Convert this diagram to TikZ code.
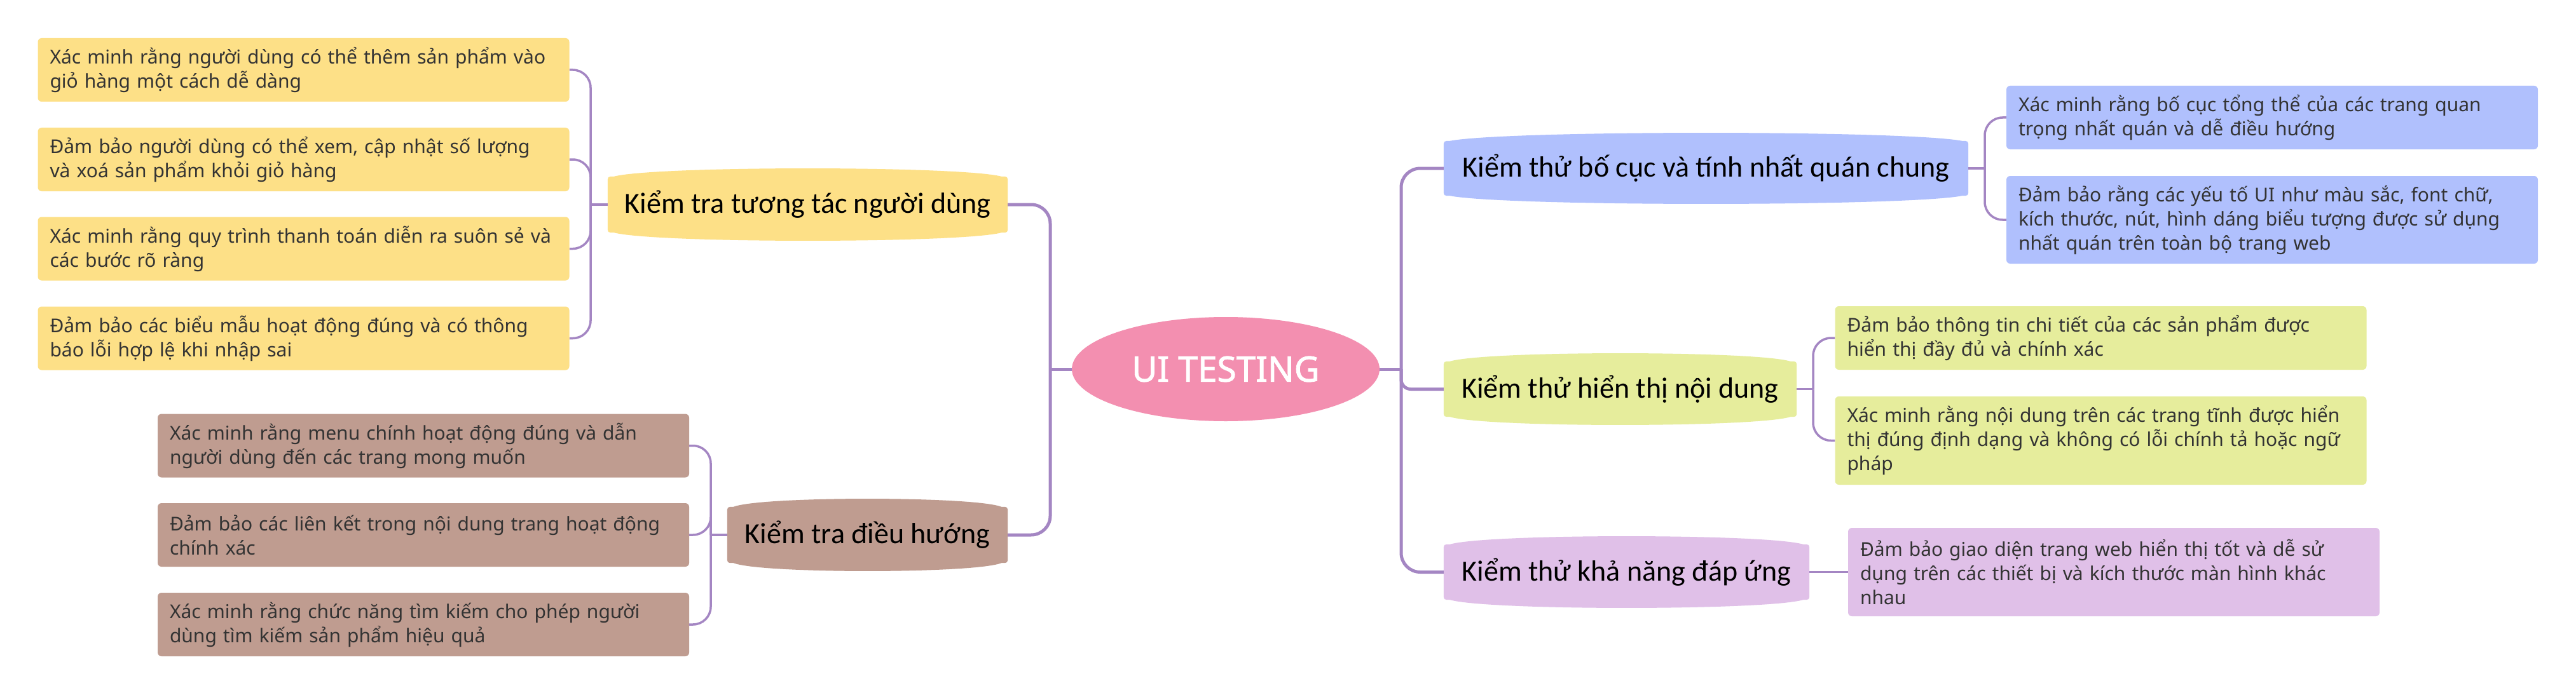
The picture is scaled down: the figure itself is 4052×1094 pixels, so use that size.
\documentclass[tikz,border=0pt]{standalone}
\usepackage{fontspec}
\setmainfont{Noto Sans}
\newfontfamily\mainfnt{Carlito}
\newfontfamily\rootfnt{Noto Sans}[FakeBold=1.6]
\usetikzlibrary{shapes.geometric,calc,backgrounds}
\definecolor{cyel}{RGB}{253,224,135}
\definecolor{cbrn}{RGB}{191,156,144}
\definecolor{cblu}{RGB}{176,192,253}
\definecolor{cgrn}{RGB}{230,237,156}
\definecolor{cpur}{RGB}{224,192,232}
\definecolor{cpink}{RGB}{243,143,176}
\definecolor{cline}{RGB}{164,134,195}
\definecolor{ctext}{RGB}{51,51,51}
\tikzset{
  leafbox/.style={rounded corners=6pt, inner xsep=19pt, inner ysep=0pt,
    text width=798pt, minimum height=100pt, align=left,
    font=\fontsize{30}{38}\selectfont, text=ctext},
  mainbox/.style={inner sep=0pt, align=center, text=black,
    font=\mainfnt\fontsize{46}{50}\selectfont},
  trunk/.style={draw=cline, line width=5pt},
  twig/.style={draw=cline, line width=3.5pt},
}
\newcommand{\barrelfill}[2]{%
  \begin{pgfonlayer}{background}
  \fill[#2] ([yshift=-10pt]#1.north west) .. controls (#1.north west) .. ([xshift=10pt]#1.north west)
    .. controls ($(#1.north west)!0.12!(#1.north east)+(0pt,17pt)$) and ($(#1.north west)!0.88!(#1.north east)+(0pt,17pt)$) .. ([xshift=-10pt]#1.north east)
    .. controls (#1.north east) .. ([yshift=-10pt]#1.north east)
    -- ([yshift=10pt]#1.south east) .. controls (#1.south east) .. ([xshift=-10pt]#1.south east)
    .. controls ($(#1.south east)!0.12!(#1.south west)+(0pt,-17pt)$) and ($(#1.south east)!0.88!(#1.south west)+(0pt,-17pt)$) .. ([xshift=10pt]#1.south west)
    .. controls (#1.south west) .. ([yshift=10pt]#1.south west) -- cycle;
  \end{pgfonlayer}}
\begin{document}
\begin{tikzpicture}[x=1pt,y=-1pt]
\begin{pgfonlayer}{background}
\fill[white] (0,0) rectangle (4052,1094);
\end{pgfonlayer}
\useasboundingbox (0,0) rectangle (4052,1094);

% centre
\node[ellipse, fill=cpink, inner sep=0pt, minimum width=484pt, minimum height=164pt,
  text=white, font=\rootfnt\fontsize{55}{60}\selectfont] (C0) at (1928,581) {UI TESTING};

% main branches
\node[mainbox, minimum width=629pt, minimum height=88pt] (U) at (1270.5,322) {Kiểm tra tương tác người dùng};
\barrelfill{U}{cyel}
\node[mainbox, minimum width=441pt, minimum height=88pt] (N) at (1364.5,842) {Kiểm tra điều hướng};
\barrelfill{N}{cbrn}
\node[mainbox, minimum width=825pt, minimum height=86pt] (L) at (2683.5,265) {Kiểm thử bố cục và tính nhất quán chung};
\barrelfill{L}{cblu}
\node[mainbox, minimum width=555pt, minimum height=87pt] (C) at (2548.5,612.5) {Kiểm thử hiển thị nội dung};
\barrelfill{C}{cgrn}
\node[mainbox, minimum width=575pt, minimum height=87pt] (R) at (2558.5,900.5) {Kiểm thử khả năng đáp ứng};
\barrelfill{R}{cpur}

% leaves
\node[leafbox, fill=cyel] (Y1) at (477.5,110) {Xác minh rằng người dùng có thể thêm sản phẩm vào\\giỏ hàng một cách dễ dàng};
\node[leafbox, fill=cyel] (Y2) at (477.5,251) {Đảm bảo người dùng có thể xem, cập nhật số lượng\\và xoá sản phẩm khỏi giỏ hàng};
\node[leafbox, fill=cyel] (Y3) at (477.5,391.5) {Xác minh rằng quy trình thanh toán diễn ra suôn sẻ và\\các bước rõ ràng};
\node[leafbox, fill=cyel] (Y4) at (477.5,532.5) {Đảm bảo các biểu mẫu hoạt động đúng và có thông\\báo lỗi hợp lệ khi nhập sai};

\node[leafbox, fill=cbrn] (N1) at (666,701.5) {Xác minh rằng menu chính hoạt động đúng và dẫn\\người dùng đến các trang mong muốn};
\node[leafbox, fill=cbrn] (N2) at (666,842) {Đảm bảo các liên kết trong nội dung trang hoạt động\\chính xác};
\node[leafbox, fill=cbrn] (N3) at (666,983) {Xác minh rằng chức năng tìm kiếm cho phép người\\dùng tìm kiếm sản phẩm hiệu quả};

\node[leafbox, fill=cblu] (L1) at (3574,185) {Xác minh rằng bố cục tổng thể của các trang quan\\trọng nhất quán và dễ điều hướng};
\node[leafbox, fill=cblu, minimum height=138pt] (L2) at (3574,346) {Đảm bảo rằng các yếu tố UI như màu sắc, font chữ,\\kích thước, nút, hình dáng biểu tượng được sử dụng\\nhất quán trên toàn bộ trang web};

\node[leafbox, fill=cgrn] (C1) at (3304.5,532) {Đảm bảo thông tin chi tiết của các sản phẩm được\\hiển thị đầy đủ và chính xác};
\node[leafbox, fill=cgrn, minimum height=139pt] (C2) at (3304.5,693.5) {Xác minh rằng nội dung trên các trang tĩnh được hiển\\thị đúng định dạng và không có lỗi chính tả hoặc ngữ\\pháp};

\node[leafbox, fill=cpur, minimum height=139pt] (R1) at (3325,900.5) {Đảm bảo giao diện trang web hiển thị tốt và dễ sử\\dụng trên các thiết bị và kích thước màn hình khác\\nhau};

% junctions
\coordinate (jl) at (1652,581);
\coordinate (jr) at (2204,581);
\coordinate (bu) at (929,322);
\coordinate (bn) at (1118,842);
\coordinate (bl) at (3122,265);
\coordinate (bc) at (2852,612.5);

\begin{pgfonlayer}{background}
\draw[trunk] (C0.west) -- (jl);
\draw[trunk, rounded corners=30pt] (U.east) -| (jl) |- (N.east);
\draw[trunk] (C0.east) -- (jr);
\draw[trunk, rounded corners=30pt] (L.west) -| (jr) |- (R.west);
\draw[trunk, rounded corners=15pt] (jr) |- (C.west);

\draw[twig] (U.west) -- (bu);
\foreach \n in {Y1,Y2,Y3,Y4} \draw[twig, rounded corners=28pt] (\n.east) -| (bu);
\draw[twig] (N.west) -- (bn);
\foreach \n in {N1,N2,N3} \draw[twig, rounded corners=28pt] (\n.east) -| (bn);
\draw[twig] (L.east) -- (bl);
\foreach \n in {L1,L2} \draw[twig, rounded corners=28pt] (\n.west) -| (bl);
\draw[twig] (C.east) -- (bc);
\foreach \n in {C1,C2} \draw[twig, rounded corners=28pt] (\n.west) -| (bc);
\draw[twig] (R.east) -- (R1.west);
\end{pgfonlayer}
\end{tikzpicture}
\end{document}
